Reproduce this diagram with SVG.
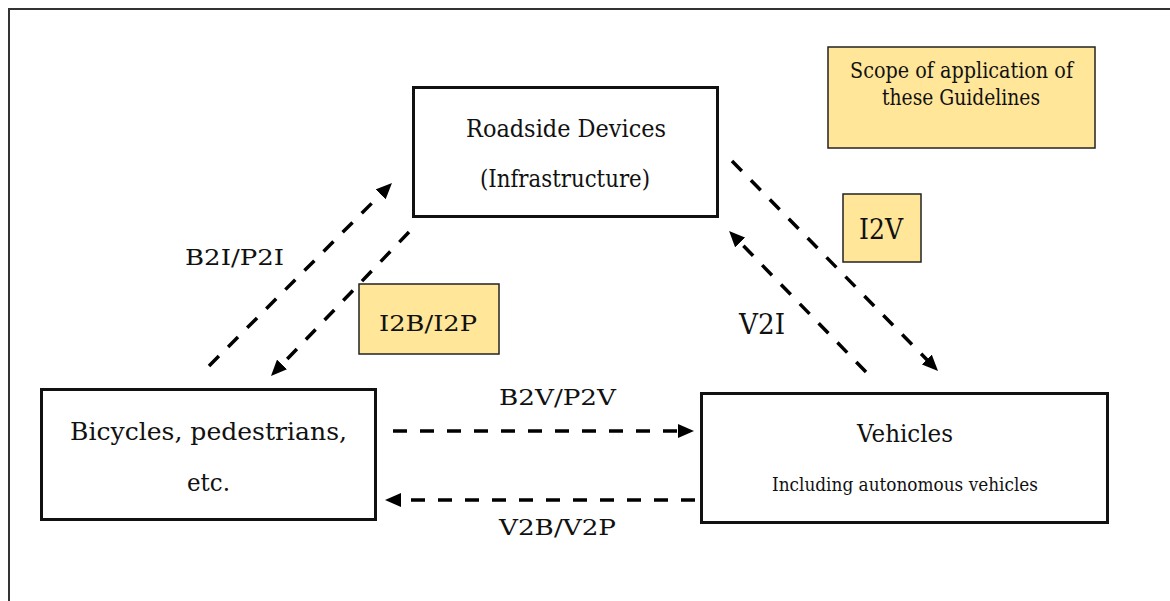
<svg xmlns="http://www.w3.org/2000/svg" width="1170" height="601" viewBox="0 0 1170 601">
  <style>
    text { font-family: "DejaVu Serif", "Liberation Serif", serif; fill: #111; text-anchor: middle; }
    .node { fill: #fff; stroke: #111; stroke-width: 3; }
    .tag { fill: #FFE699; stroke: #222; stroke-width: 1.5; }
    .link { fill: none; stroke: #000; stroke-width: 3.5; stroke-dasharray: 14 13; }
  </style>
  <defs>
    <marker id="head" viewBox="0 0 16 14" markerWidth="16" markerHeight="14" refX="4" refY="7" orient="auto" markerUnits="userSpaceOnUse">
      <path d="M0,0 L16,7 L0,14 z" fill="#000"/>
    </marker>
  </defs>

  <!-- outer frame (right and bottom edges run off the canvas) -->
  <rect x="9" y="9" width="1200" height="700" fill="#fff" stroke="#333" stroke-width="2"/>

  <g id="scope">
    <rect class="tag" x="828" y="47" width="267" height="101"/>
    <text x="961.5" y="78" font-size="22" textLength="223" lengthAdjust="spacingAndGlyphs">Scope of application of</text>
    <text x="961" y="105" font-size="22" textLength="158" lengthAdjust="spacingAndGlyphs">these Guidelines</text>
  </g>

  <g id="roadside">
    <rect class="node" x="413.5" y="87.5" width="304" height="129"/>
    <text x="566" y="137" font-size="25" textLength="200" lengthAdjust="spacingAndGlyphs">Roadside Devices</text>
    <text x="565" y="187" font-size="25" textLength="170" lengthAdjust="spacingAndGlyphs">(Infrastructure)</text>
  </g>

  <g id="bicycles">
    <rect class="node" x="41.5" y="389.5" width="334" height="130"/>
    <text x="208.5" y="440" font-size="25" textLength="277" lengthAdjust="spacingAndGlyphs">Bicycles, pedestrians,</text>
    <text x="208.5" y="491" font-size="25" textLength="43" lengthAdjust="spacingAndGlyphs">etc.</text>
  </g>

  <g id="vehicles">
    <rect class="node" x="701.5" y="393.5" width="406" height="129"/>
    <text x="905" y="442" font-size="25" textLength="96" lengthAdjust="spacingAndGlyphs">Vehicles</text>
    <text x="905" y="491" font-size="18" textLength="266" lengthAdjust="spacingAndGlyphs">Including autonomous vehicles</text>
  </g>

  <g id="i2b-tag">
    <rect class="tag" x="359" y="284" width="140" height="70"/>
    <text x="428" y="331" font-size="22" textLength="98" lengthAdjust="spacingAndGlyphs">I2B/I2P</text>
  </g>

  <g id="i2v-tag">
    <rect class="tag" x="843" y="194" width="78" height="68"/>
    <text x="881" y="239" font-size="27" textLength="44" lengthAdjust="spacingAndGlyphs">I2V</text>
  </g>

  <g id="connectors">
    <path class="link" d="M393,431 L682,431" marker-end="url(#head)"/>
    <path class="link" d="M695,500 L397,500" marker-end="url(#head)"/>
    <path class="link" d="M209,366 L383.5,191.5" marker-end="url(#head)"/>
    <path class="link" d="M409,232 L279.3,367.3" marker-end="url(#head)"/>
    <path class="link" d="M732,161 L929.6,362.4" marker-end="url(#head)"/>
    <path class="link" d="M866,372 L737.4,239.6" marker-end="url(#head)"/>
  </g>

  <g id="labels">
    <text x="234.5" y="265" font-size="22" textLength="99" lengthAdjust="spacingAndGlyphs">B2I/P2I</text>
    <text x="762" y="334" font-size="27" textLength="46" lengthAdjust="spacingAndGlyphs">V2I</text>
    <text x="557.5" y="405" font-size="22" textLength="117" lengthAdjust="spacingAndGlyphs">B2V/P2V</text>
    <text x="557.5" y="535" font-size="22" textLength="117" lengthAdjust="spacingAndGlyphs">V2B/V2P</text>
  </g>
</svg>
